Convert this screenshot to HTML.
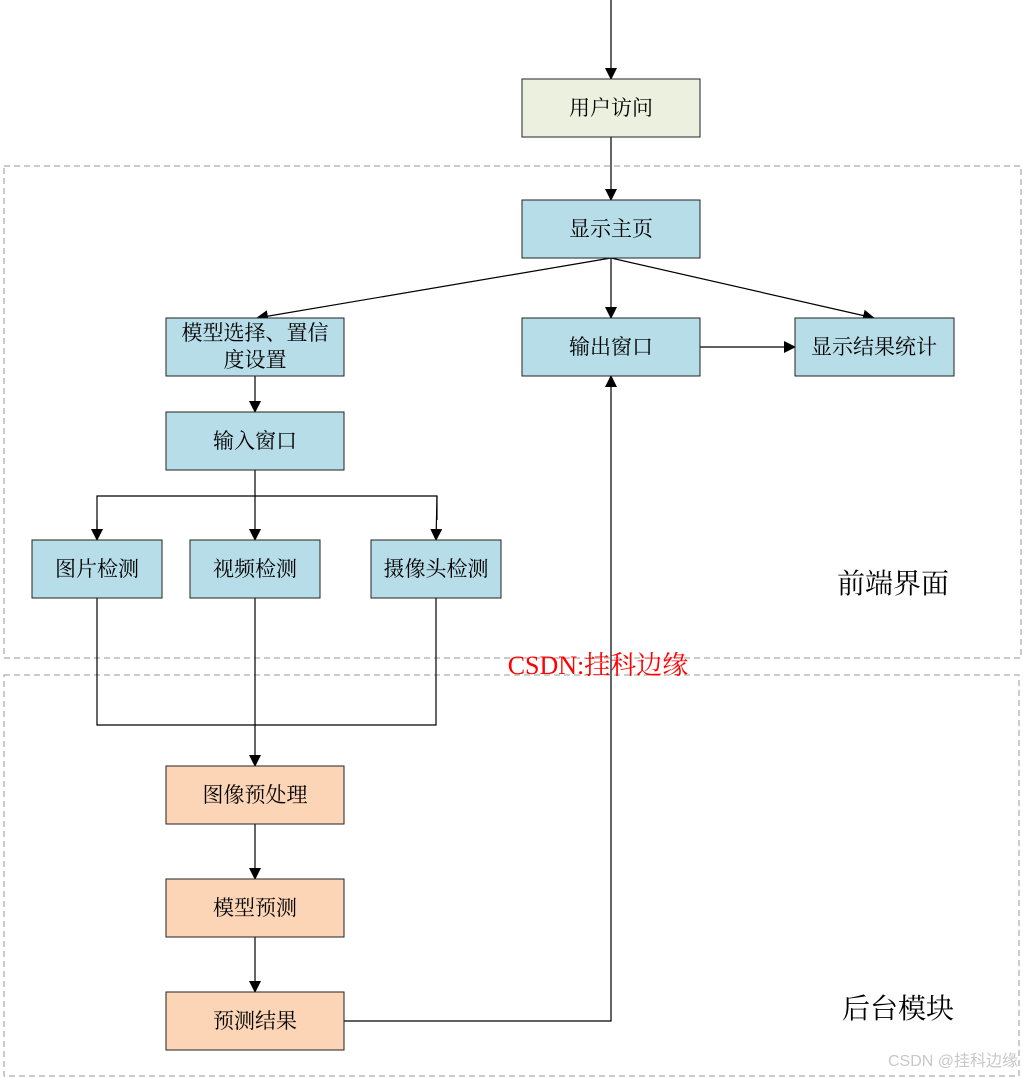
<!DOCTYPE html>
<html><head><meta charset="utf-8"><style>
html,body{margin:0;padding:0;background:#fff;}
svg{display:block;}
text{font-family:"Liberation Serif","Noto Serif CJK SC",serif;}
</style></head><body>
<svg width="1023" height="1078" viewBox="0 0 1023 1078" xmlns="http://www.w3.org/2000/svg">
<defs>
<marker id="a" markerWidth="12" markerHeight="12" refX="11" refY="6" orient="auto" markerUnits="userSpaceOnUse">
<path d="M0,0 L12,6 L0,12 Z" fill="#000"/></marker>
</defs>
<rect x="4" y="166" width="1017" height="492" fill="none" stroke="#999" stroke-dasharray="6,4"/>
<rect x="4" y="675" width="1015" height="401" fill="none" stroke="#999" stroke-dasharray="6,4"/>
<g stroke="#000" stroke-width="1.2" fill="none">
<line x1="611" y1="0" x2="611" y2="79" marker-end="url(#a)"/>
<line x1="611" y1="137" x2="611" y2="200" marker-end="url(#a)"/>
<line x1="611" y1="258" x2="257" y2="318" marker-end="url(#a)"/>
<line x1="611" y1="258" x2="611" y2="318" marker-end="url(#a)"/>
<line x1="611" y1="258" x2="874" y2="318" marker-end="url(#a)"/>
<line x1="700" y1="347" x2="795" y2="347" marker-end="url(#a)"/>
<line x1="255" y1="376" x2="255" y2="412" marker-end="url(#a)"/>
<polyline points="255,470 255,496"/>
<polyline points="97,540 97,496 437,496 437,520"/>
<line x1="97" y1="520" x2="97" y2="540" marker-end="url(#a)"/>
<line x1="255" y1="496" x2="255" y2="540" marker-end="url(#a)"/>
<line x1="437" y1="496" x2="436" y2="540" marker-end="url(#a)"/>
<polyline points="97,598 97,725 436,725 436,598"/>
<line x1="255" y1="598" x2="255" y2="766" marker-end="url(#a)"/>
<line x1="255" y1="824" x2="255" y2="879" marker-end="url(#a)"/>
<line x1="255" y1="937" x2="255" y2="992" marker-end="url(#a)"/>
<polyline points="344,1021 611,1021 611,376" marker-end="url(#a)"/>
</g>
<g stroke="#222" stroke-width="1">
<rect x="522" y="79" width="178" height="58" fill="#ebf1de"/>
<rect x="522" y="200" width="178" height="58" fill="#b7dde8"/>
<rect x="166" y="318" width="178" height="58" fill="#b7dde8"/>
<rect x="522" y="318" width="178" height="58" fill="#b7dde8"/>
<rect x="795" y="318" width="159" height="58" fill="#b7dde8"/>
<rect x="166" y="412" width="178" height="58" fill="#b7dde8"/>
<rect x="32" y="540" width="130" height="58" fill="#b7dde8"/>
<rect x="190" y="540" width="130" height="58" fill="#b7dde8"/>
<rect x="371" y="540" width="130" height="58" fill="#b7dde8"/>
<rect x="166" y="766" width="178" height="58" fill="#fbd5b5"/>
<rect x="166" y="879" width="178" height="58" fill="#fbd5b5"/>
<rect x="166" y="992" width="178" height="58" fill="#fbd5b5"/>
</g>
<g font-size="21" text-anchor="middle" fill="#000">
<text x="611" y="115">用户访问</text>
<text x="611" y="236">显示主页</text>
<text x="255" y="340">模型选择、置信</text>
<text x="255" y="367">度设置</text>
<text x="611" y="354">输出窗口</text>
<text x="874" y="354">显示结果统计</text>
<text x="255" y="448">输入窗口</text>
<text x="97" y="576">图片检测</text>
<text x="255" y="576">视频检测</text>
<text x="436" y="576">摄像头检测</text>
<text x="255" y="802">图像预处理</text>
<text x="255" y="915">模型预测</text>
<text x="255" y="1028">预测结果</text>
</g>
<text x="893" y="593" font-size="28" text-anchor="middle">前端界面</text>
<text x="898" y="1018" font-size="28" text-anchor="middle">后台模块</text>
<text x="598" y="674" font-size="26" text-anchor="middle" fill="#ff0000">CSDN:挂科边缘</text>
<text x="1018" y="1066" font-size="16" text-anchor="end" fill="#c8c8c8" style="font-family:'Liberation Sans','Noto Sans CJK SC',sans-serif">CSDN @挂科边缘</text>
</svg>
</body></html>
